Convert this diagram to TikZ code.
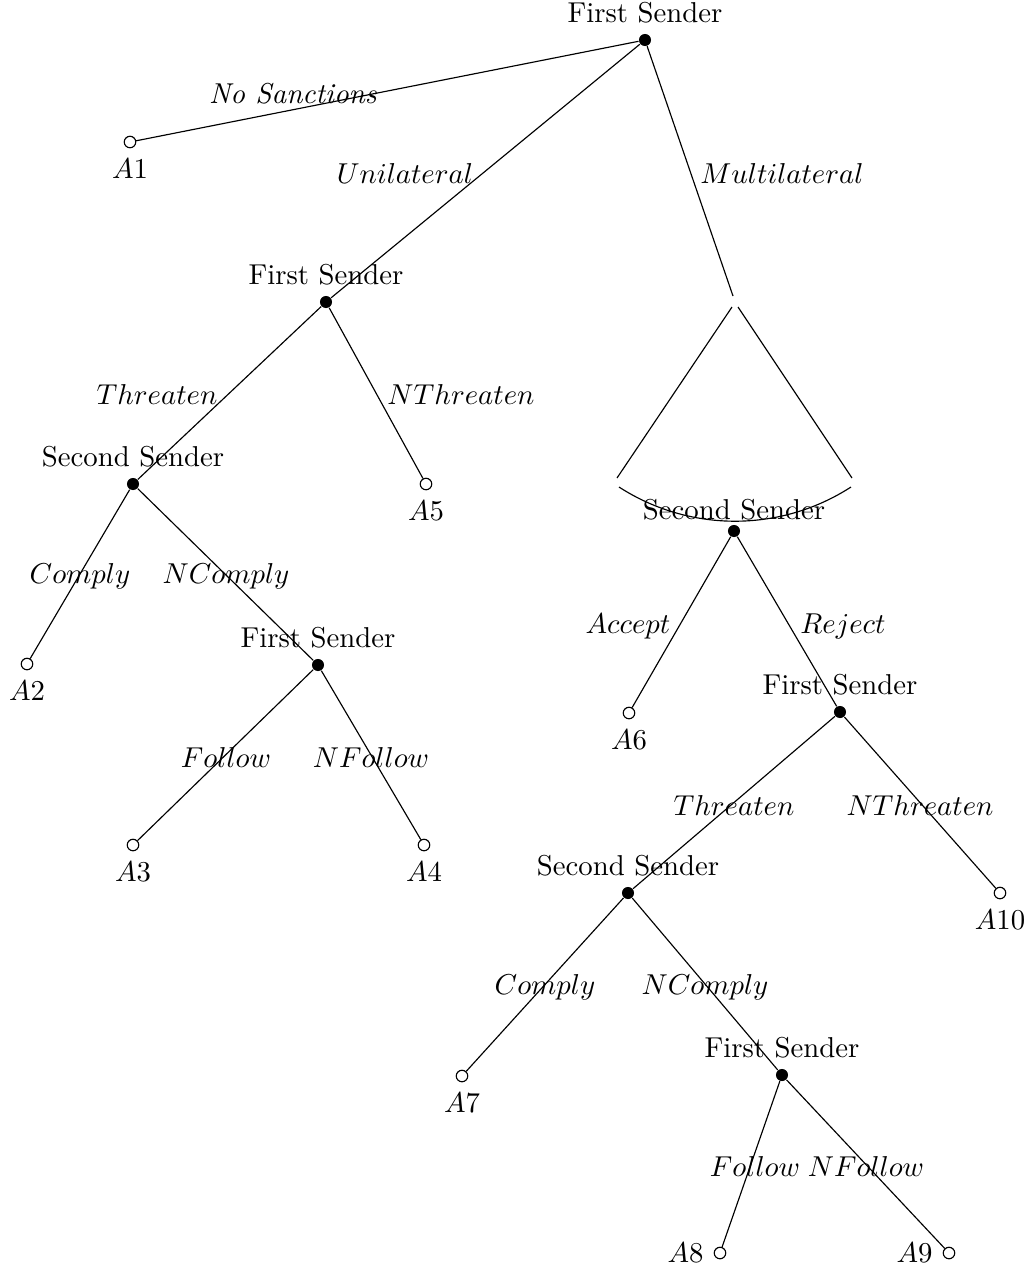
\documentclass[tikz,border=0pt]{standalone}
\usepackage{amsmath,amssymb}
\usetikzlibrary{positioning,calc}

\begin{document}
\begin{tikzpicture}[x=0.01222cm,y=-0.01222cm,
    decision/.style={circle,fill=black,inner sep=0pt,minimum size=4.2pt},
    outcome/.style={circle,draw=black,fill=white,inner sep=0pt,minimum size=4pt},
    move/.style={anchor=base,inner sep=0pt}]
    \useasboundingbox (0,0) rectangle (1029,1274);
    % decision nodes
    \node[decision,label=above:First Sender] (fs0) at (645,40) {};
    \node[decision,label=above:First Sender] (fs1) at (326,302) {};
    \node[decision,label=above:Second Sender] (ss1) at (133,484) {};
    \node[decision,label=above:First Sender] (fs2) at (318,665) {};
    \node[decision,label={[label distance=-1.9pt]above:Second Sender}] (ss2) at (734,531) {};
    \node[decision,label=above:First Sender] (fs3) at (840,712) {};
    \node[decision,label=above:Second Sender] (ss3) at (628,893) {};
    \node[decision,label=above:First Sender] (fs4) at (782,1075) {};
    % outcomes
    \node[outcome,label=below:$A1$] (a1) at (130,142) {};
    \node[outcome,label=below:$A2$] (a2) at (27,664) {};
    \node[outcome,label=below:$A3$] (a3) at (133,845) {};
    \node[outcome,label=below:$A4$] (a4) at (424,845) {};
    \node[outcome,label=below:$A5$] (a5) at (426,484) {};
    \node[outcome,label=below:$A6$] (a6) at (629,713) {};
    \node[outcome,label=below:$A7$] (a7) at (462,1076) {};
    \node[outcome,label=left:$A8$] (a8) at (720,1253) {};
    \node[outcome,label=left:$A9$] (a9) at (949,1253) {};
    \node[outcome,label=below:$A10$] (a10) at (1000,893) {};
    % multilateral fan
    \coordinate (mend) at (733,296);
    \coordinate (fanl) at (732,307);
    \coordinate (fanr) at (738,307);
    \coordinate (fanll) at (617,478);
    \coordinate (fanrr) at (852,478);
    \coordinate (arcl) at (619,487);
    \coordinate (arcr) at (851,487);
    \draw (fanl) -- (fanll);
    \draw (fanr) -- (fanrr);
    \draw (arcl) .. controls (689.6,532.6) and (780.4,532.6) .. (arcr);
    % branches
    \draw (fs0) -- (a1);
    \draw (fs0) -- (fs1);
    \draw (fs0) -- (mend);
    \draw (fs1) -- (ss1);
    \draw (fs1) -- (a5);
    \draw (ss1) -- (a2);
    \draw (ss1) -- (fs2);
    \draw (fs2) -- (a3);
    \draw (fs2) -- (a4);
    \draw (ss2) -- (a6);
    \draw (ss2) -- (fs3);
    \draw (fs3) -- (ss3);
    \draw (fs3) -- (a10);
    \draw (ss3) -- (a7);
    \draw (ss3) -- (fs4);
    \draw (fs4) -- (a8);
    \draw (fs4) -- (a9);
    % move labels
    \node[move] (lnos) at (293,103) {\textit{No Sanctions}};
    \node[move] (luni) at (405,183) {$Unilateral$};
    \node[move] (lmul) at (782,183) {$Multilateral$};
    \node[move] (lthr1) at (157,404) {$Threaten$};
    \node[move] (lnthr1) at (461,404) {$NThreaten$};
    \node[move] (lcom1) at (80,583) {$Comply$};
    \node[move] (lncom1) at (226,583) {$NComply$};
    \node[move] (lfol1) at (226,767) {$Follow$};
    \node[move] (lnfol1) at (371,767) {$NFollow$};
    \node[move] (lacc) at (628,633) {$Accept$};
    \node[move] (lrej) at (843,633) {$Reject$};
    \node[move] (lthr2) at (734,815) {$Threaten$};
    \node[move] (lnthr2) at (920,815) {$NThreaten$};
    \node[move] (lcom2) at (545,994) {$Comply$};
    \node[move] (lncom2) at (705,994) {$NComply$};
    \node[move] (lfol2) at (755,1176) {$Follow$};
    \node[move] (lnfol2) at (866,1176) {$NFollow$};
\end{tikzpicture}
\end{document}
